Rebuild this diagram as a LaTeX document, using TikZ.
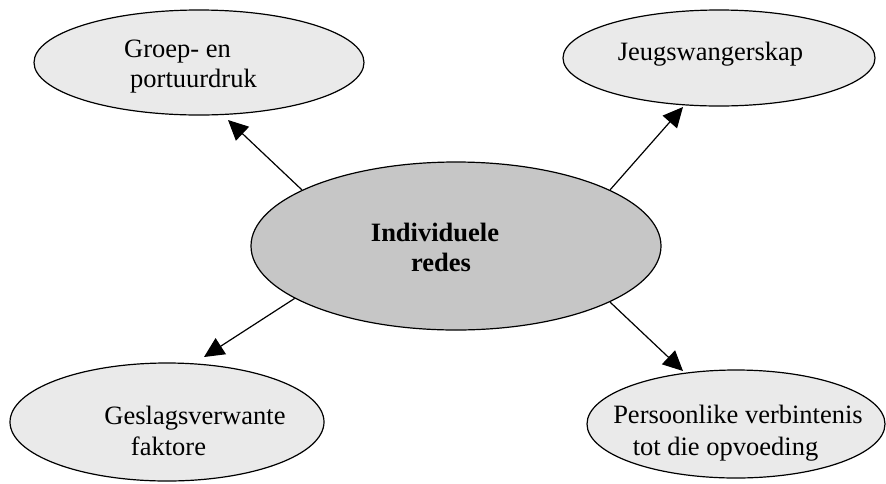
\documentclass[tikz,border=0pt]{standalone}
\usepackage{fontspec}
\setmainfont{Liberation Serif}
\usetikzlibrary{shapes.geometric,arrows.meta}
\definecolor{outerfill}{HTML}{EAEAEA}
\definecolor{centerfill}{HTML}{C6C6C6}
\begin{document}
\begin{tikzpicture}[x=1pt,y=-1pt,
  bubble/.style={ellipse, draw=black, line width=1.2pt, fill=outerfill, inner sep=0pt},
  hub/.style={bubble, fill=centerfill},
  txt/.style={font=\fontsize{26.5}{30}\selectfont, inner sep=0pt, anchor=base},
  boldtxt/.style={txt, font=\fontsize{26.5}{30}\selectfont\bfseries},
  arr/.style={line width=1.2pt, -{Triangle[length=20pt,width=19pt]}}]
\useasboundingbox (0,0) rectangle (886,483);

% ellipses
\node[bubble, minimum width=330pt, minimum height=105pt] (tl) at (199,62.5) {};
\node[bubble, minimum width=312pt, minimum height=96pt] (tr) at (719,58) {};
\node[bubble, minimum width=314pt, minimum height=118pt] (bl) at (167,422) {};
\node[bubble, minimum width=298pt, minimum height=108pt] (br) at (736,424) {};
\node[hub, minimum width=410pt, minimum height=168pt] (c) at (456,246) {};

% texts
\node[txt] (tlA) at (177.5,57) {Groep- en};
\node[txt] (tlB) at (193.5,87) {portuurdruk};
\node[txt] (trA) at (710.5,60) {Jeugswangerskap};
\node[txt] (blA) at (195,424) {Geslagsverwante};
\node[txt] (blB) at (168.5,455) {faktore};
\node[txt] (brA) at (738,423) {Persoonlike verbintenis};
\node[txt] (brB) at (725.5,455) {tot die opvoeding};
\node[boldtxt] (cA) at (435,241) {Individuele};
\node[boldtxt] (cB) at (441,271) {redes};

% arrow tips (free ends)
\coordinate (tlTip) at (228,120);
\coordinate (trTip) at (683,107);
\coordinate (blTip) at (204,357);
\coordinate (brTip) at (683,371);

% connectors
\draw[arr] (c.160.6) -- (tlTip);
\draw[arr] (c.20.6) -- (trTip);
\draw[arr] (c.198.4) -- (blTip);
\draw[arr] (c.340.9) -- (brTip);
\end{tikzpicture}
\end{document}
